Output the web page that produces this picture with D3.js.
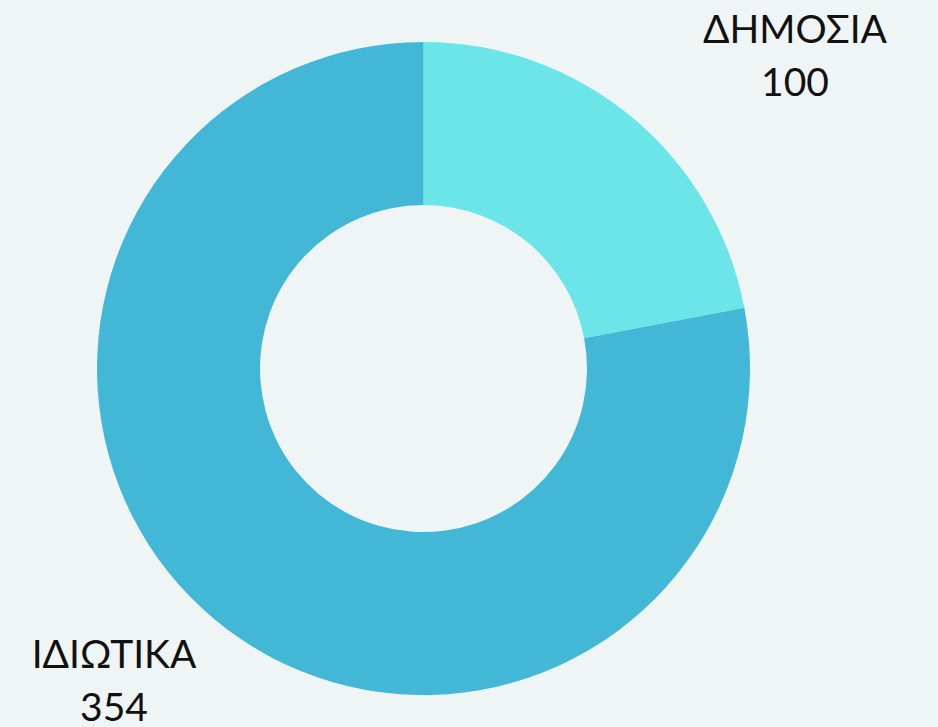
<!DOCTYPE html>
<html>
<head>
<meta charset="utf-8">
<script src="https://cdn.jsdelivr.net/npm/d3@7"></script>
<style>
  body { margin: 0; background: #eff5f5; }
  svg { display: block; }
</style>
</head>
<body>
<svg id="chart"></svg>
<script>
const width = 938, height = 727;

// Δεδομένα
const labels = ["ΔΗΜΟΣΙΑ", "ΙΔΙΩΤΙΚΑ"];
const values = [100, 354];
const colors = ["#6be5e8", "#43b8d6"];

const svg = d3.select("#chart").attr("width", width).attr("height", height);
svg.append("rect").attr("width", width).attr("height", height).attr("fill", "#eff5f5");

const cx = 423.5, cy = 368.5, outerR = 326.5, innerR = 163.5;

const pie = d3.pie().sort(null).value(d => d)(values);
const arc = d3.arc().innerRadius(innerR).outerRadius(outerR);

const g = svg.append("g").attr("transform", `translate(${cx},${cy})`);
g.selectAll("path")
  .data(pie)
  .join("path")
  .attr("d", arc)
  .attr("fill", (d, i) => colors[i]);

//Etichette (posizioni come nel riferimento)
const labelPos = [[795, 43], [114, 668]];
labels.forEach((lab, i) => {
  const t = svg.append("text")
    .attr("x", labelPos[i][0])
    .attr("y", labelPos[i][1])
    .attr("text-anchor", "middle")
    .attr("font-family", "Lato, 'Open Sans', sans-serif")
    .attr("font-size", "39px")
    .attr("fill", "#111");
  t.append("tspan").text(lab);
  t.append("tspan").attr("x", labelPos[i][0]).attr("dy", 53).text(values[i]);
});
</script>
</body>
</html>
